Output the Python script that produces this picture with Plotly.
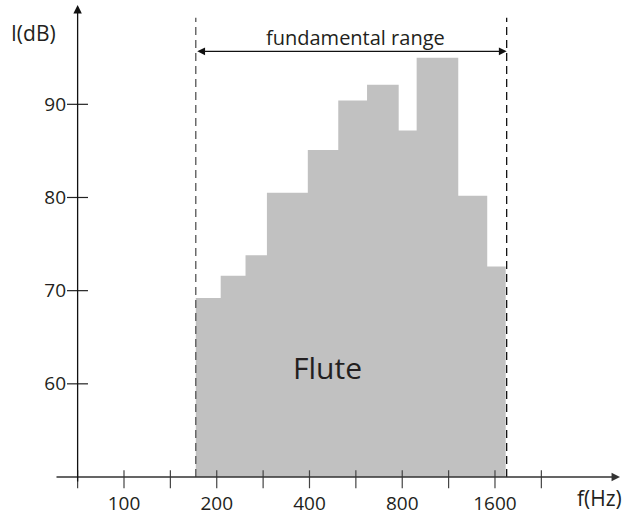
import numpy as np
import plotly.graph_objects as go

# ---- data ----
band_edges_hz = [171, 206, 248, 291, 395, 496, 615, 779, 891, 1216, 1510, 1733]
band_levels_db = [69.2, 71.6, 73.8, 80.5, 85.1, 90.4, 92.1, 87.2, 95.0, 80.2, 72.6]
fund_range_hz = [171, 1746]
x_tick_vals = [100, 200, 400, 800, 1600]
x_tick_text = ["100", "200", "400", "800", "1600"]
x_minor_ticks = [100 * 2 ** (k / 2) for k in range(-1, 10)]
y_tick_vals = [60, 70, 80, 90]
y_base = 50
label_inst = "Flute"

FONT = "Open Sans"
TXT = "#231f20"
AX = "#333333"

fig = go.Figure()

# step polygon for the bands
px, py = [band_edges_hz[0]], [y_base]
for i, lv in enumerate(band_levels_db):
    px += [band_edges_hz[i], band_edges_hz[i + 1]]
    py += [lv, lv]
px.append(band_edges_hz[-1]); py.append(y_base)
fig.add_trace(go.Scatter(x=px, y=py, fill="toself", fillcolor="#c1c1c1",
                         line=dict(width=0, color="#c1c1c1"), mode="lines",
                         hoverinfo="skip", showlegend=False))

# dashed boundaries of the fundamental range
for f, col in zip(fund_range_hz, ["#555555", "#111111"]):
    fig.add_trace(go.Scatter(x=[f, f], y=[y_base, 99.3], mode="lines",
                             line=dict(color=col, width=1.3, dash="8px,5px"),
                             hoverinfo="skip", showlegend=False))

# x-axis tick marks crossing the axis
tx, ty = [], []
for v in x_minor_ticks:
    tx += [v, v, None]; ty += [50.72, 48.79, None]
fig.add_trace(go.Scatter(x=tx, y=ty, mode="lines", line=dict(color="#444", width=1.2),
                         hoverinfo="skip", showlegend=False))
# y-axis tick marks crossing the axis
yx, yy = [], []
for v in y_tick_vals:
    yx += [65.3, 76.4, None]; yy += [v, v, None]
fig.add_trace(go.Scatter(x=yx, y=yy, mode="lines", line=dict(color="#222", width=1.2),
                         hoverinfo="skip", showlegend=False))

ann = []
# x axis line with arrow
ann.append(dict(xref="paper", x=1, yref="y", y=y_base, ax=-565, ay=0, axref="pixel",
                ayref="pixel", text="", showarrow=True, arrowhead=2, arrowsize=1.3,
                arrowwidth=1.3, arrowcolor=AX))
# y axis line with arrow
ann.append(dict(xref="x", x=np.log10(100 / np.sqrt(2)), yref="paper", y=1, ax=0, ay=478,
                text="", showarrow=True, arrowhead=2, arrowsize=1.3, arrowwidth=1.3,
                arrowcolor="#111"))
# fundamental range double arrow
ann.append(dict(xref="x", x=np.log10(fund_range_hz[1]), yref="y", y=95.69,
                axref="x", ax=np.log10(fund_range_hz[0]), ayref="y", ay=95.69,
                text="", showarrow=True, arrowhead=2, arrowside="end+start",
                arrowsize=1.3, arrowwidth=1.2, arrowcolor="#111", standoff=0, startstandoff=0))


def txt(xp, yp, s, size):
    return dict(xref="paper", yref="paper", x=(xp - 67) / 553, y=(490 - yp) / 485,
                xanchor="center", yanchor="middle", text=s, showarrow=False,
                font=dict(family=FONT, size=size, color=TXT))


ann.append(txt(355, 38, "fundamental range", 20))
ann.append(txt(327, 367, label_inst, 30))
ann.append(txt(33, 33, "I(dB)", 21))
ann.append(txt(599, 498, "f(Hz)", 21))

fig.update_layout(
    width=625, height=517,
    margin=dict(l=67, r=5, t=5, b=27),
    paper_bgcolor="white", plot_bgcolor="white",
    annotations=ann,
    xaxis=dict(type="log", range=[1.815, 3.6099], showgrid=False, zeroline=False,
               showline=False, tickvals=x_tick_vals, ticktext=x_tick_text,
               ticks="", automargin=False,
               tickfont=dict(family=FONT, size=19, color=TXT)),
    yaxis=dict(range=[48.605, 100.66], showgrid=False, zeroline=False, showline=False,
               tickvals=y_tick_vals, ticks="", automargin=False,
               tickfont=dict(family=FONT, size=19, color=TXT)),
)

fig.write_html("out.html", config={"displayModeBar": False},
               post_script="document.body.style.margin='0';")
